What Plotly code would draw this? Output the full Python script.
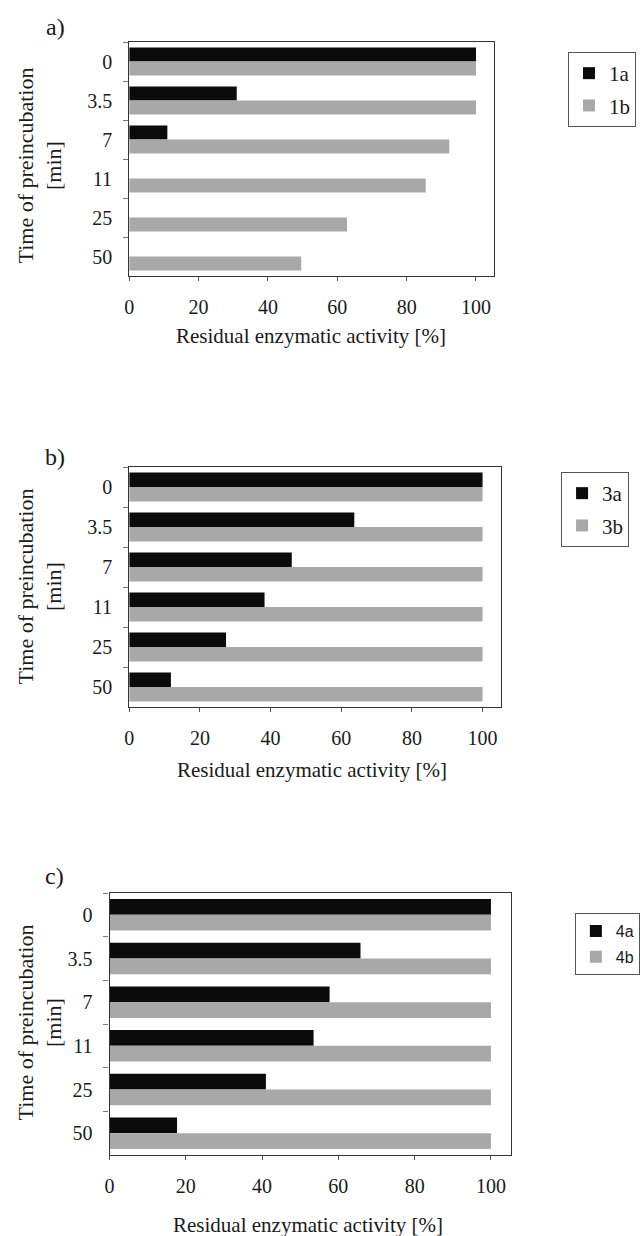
import plotly.graph_objects as go

# ---- data ----
times = ["0", "3.5", "7", "11", "25", "50"]

a_names = ["1a", "1b"]
a_1a = [100, 31, 11, None, None, None]
a_1b = [100, 100, 92.3, 85.5, 62.8, 49.6]

b_names = ["3a", "3b"]
b_3a = [100, 63.7, 46, 38.3, 27.4, 11.8]
b_3b = [100, 100, 100, 100, 100, 100]

c_names = ["4a", "4b"]
c_4a = [100, 65.8, 57.7, 53.5, 41, 17.7]
c_4b = [100, 100, 100, 100, 100, 100]

x_ticks = [0, 20, 40, 60, 80, 100]
x_title = "Residual enzymatic activity [%]"
y_title = "Time of preincubation<br>[min]"
panel_labels = ["a)", "b)", "c)"]

# ---- styling ----
W, H = 640, 1236
SERIF = "Liberation Serif"
SANS = "Liberation Sans"
BLACK = "#0b0b0b"
GRAY = "#a8a8a8"
TXT = "#1a1a1a"

def px_x(v):
    return v / W

def px_y(v):
    return 1 - v / H

# plot-area boxes in pixels: (left, right, top, bottom)
boxes = [(126, 496, 42, 276), (126, 503, 467, 707), (106, 513, 893, 1155)]

fig = go.Figure()

series = [
    (a_names, a_1a, a_1b, "legend"),
    (b_names, b_3a, b_3b, "legend2"),
    (c_names, c_4a, c_4b, "legend3"),
]

for i, (names, s1, s2, leg) in enumerate(series):
    xa = "x" if i == 0 else f"x{i+1}"
    ya = "y" if i == 0 else f"y{i+1}"
    fig.add_trace(go.Bar(y=times, x=s1, orientation="h", name=names[0],
                         legendgroup=names[0],
                         marker=dict(color=BLACK, line=dict(width=0)),
                         xaxis=xa, yaxis=ya, legend=leg))
    fig.add_trace(go.Bar(y=times, x=s2, orientation="h", name=names[1],
                         legendgroup=names[1],
                         marker=dict(color=GRAY, line=dict(width=0)),
                         xaxis=xa, yaxis=ya, legend=leg))

layout = dict(
    width=W, height=H,
    margin=dict(l=0, r=0, t=0, b=0),
    paper_bgcolor="white", plot_bgcolor="white",
    barmode="group", bargap=0.28, bargroupgap=0,
    font=dict(family=SERIF, color=TXT),
    showlegend=True,
)

for i, (l, r, t, b) in enumerate(boxes):
    xk = "xaxis" if i == 0 else f"xaxis{i+1}"
    yk = "yaxis" if i == 0 else f"yaxis{i+1}"
    ya = "y" if i == 0 else f"y{i+1}"
    xa = "x" if i == 0 else f"x{i+1}"
    layout[xk] = dict(
        domain=[px_x(l), px_x(r)], anchor=ya,
        range=[0, 105.2], tickvals=x_ticks, ticks="outside", ticklen=4,
        tickcolor="#555", showline=True, linecolor="#333", linewidth=1.2,
        mirror=True, showgrid=False, zeroline=False,
        tickfont=dict(family=SERIF, size=20, color=TXT),
        ticklabelstandoff=9,
    )
    layout[yk] = dict(
        domain=[px_y(b), px_y(t)], anchor=xa,
        type="category", categoryorder="array", categoryarray=times,
        autorange="reversed", tickson="boundaries", ticks="outside",
        ticklen=5, tickcolor="#777", showline=True, linecolor="#333",
        linewidth=1.2, mirror=True, showgrid=False, zeroline=False,
        tickfont=dict(family=SERIF, size=20, color=TXT),
        ticklabelstandoff=12,
    )

# legends
common_leg = dict(xanchor="left", yanchor="top", bordercolor="#555", borderwidth=1,
                  bgcolor="white", itemwidth=30, tracegroupgap=2,
                  traceorder="grouped")
layout["legend"] = dict(x=px_x(571), y=px_y(52),
                        font=dict(family=SERIF, size=21, color=TXT), **common_leg)
layout["legend2"] = dict(x=px_x(564), y=px_y(472),
                         font=dict(family=SERIF, size=21, color=TXT), **common_leg)
layout["legend3"] = dict(x=px_x(578), y=px_y(913),
                         font=dict(family=SANS, size=16, color=TXT), **common_leg)

fig.update_layout(**layout)

# annotations: panel labels, axis titles
label_pos = [(51, 27), (51, 457), (50, 876)]
ytitle_pos = [(35, 166), (35, 587), (35, 1023)]
xtitle_pos = [(310, 336), (311, 770), (307, 1225)]

for lab, (x, y) in zip(panel_labels, label_pos):
    fig.add_annotation(text=lab, x=px_x(x), y=px_y(y), xref="paper", yref="paper",
                       showarrow=False, xanchor="center", yanchor="middle",
                       font=dict(family=SERIF, size=24, color=TXT))
for (x, y) in ytitle_pos:
    fig.add_annotation(text=y_title, x=px_x(x), y=px_y(y), xref="paper", yref="paper",
                       showarrow=False, xanchor="center", yanchor="middle",
                       textangle=-90,
                       font=dict(family=SERIF, size=22, color=TXT))
for (x, y) in xtitle_pos:
    fig.add_annotation(text=x_title, x=px_x(x), y=px_y(y), xref="paper", yref="paper",
                       showarrow=False, xanchor="center", yanchor="middle",
                       font=dict(family=SERIF, size=21, color=TXT))

fig.write_html("out.html")
